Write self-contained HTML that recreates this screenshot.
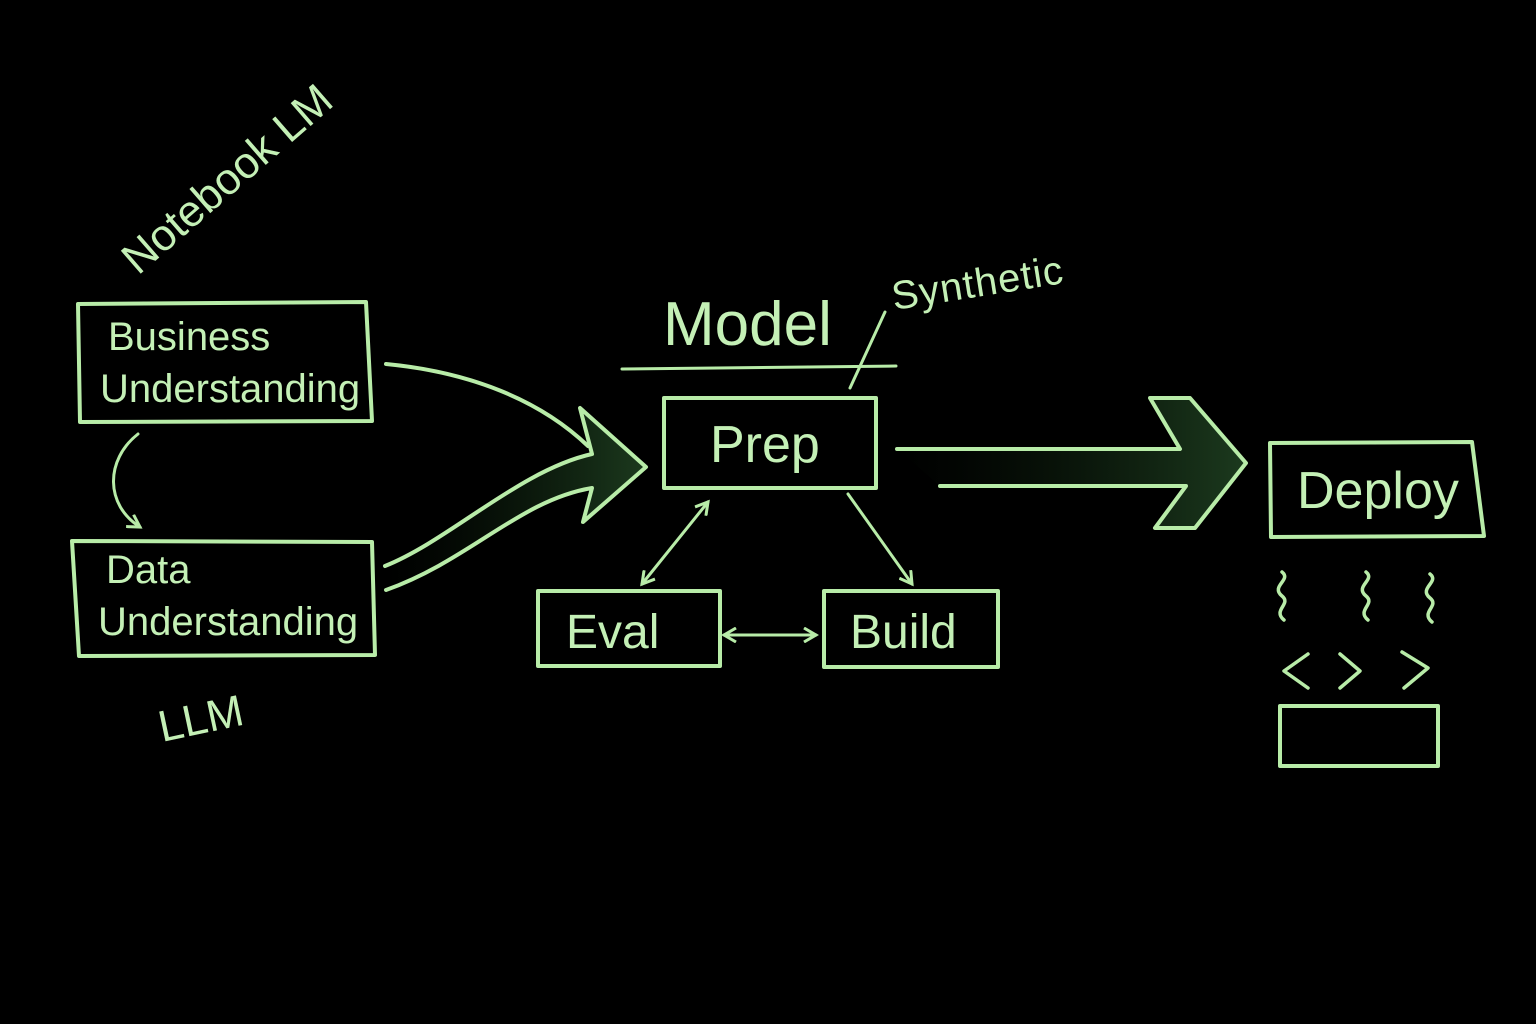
<!DOCTYPE html>
<html><head><meta charset="utf-8"><style>
html,body{margin:0;padding:0;background:#000;}
svg{display:block}
text{font-family:"Liberation Sans",sans-serif;fill:#c4f0b6;}
</style></head><body>
<svg width="1536" height="1024" viewBox="0 0 1536 1024" xmlns="http://www.w3.org/2000/svg">
<defs>
<linearGradient id="g1" x1="0" x2="1"><stop offset="0" stop-color="#0a1a0a" stop-opacity="0"/><stop offset="1" stop-color="#1c3a1e"/></linearGradient>
<marker id="ah" markerWidth="16" markerHeight="16" refX="13" refY="8" orient="auto" markerUnits="userSpaceOnUse"><path d="M1,1 L13,8 L1,15" fill="none" stroke="#b8eca8" stroke-width="3"/></marker>
<marker id="ahs" markerWidth="16" markerHeight="16" refX="3" refY="8" orient="auto" markerUnits="userSpaceOnUse"><path d="M15,1 L3,8 L15,15" fill="none" stroke="#b8eca8" stroke-width="3"/></marker>
</defs>
<g fill="none" stroke="#b8eca8" stroke-width="4" stroke-linecap="round" stroke-linejoin="round">
<path d="M78,304 L366,302 L372,421 L80,422 Z"/>
<path d="M72,541 L372,542 L375,655 L79,656 Z"/>
<rect x="664" y="398" width="212" height="90"/>
<rect x="538" y="591" width="182" height="75"/>
<rect x="824" y="591" width="174" height="76"/>
<path d="M1270,443 L1472,442 L1484,536 L1271,537 Z"/>
<rect x="1280" y="706" width="158" height="60"/>
<path d="M622,369 L896,366" stroke-width="3"/>
<path d="M885,312 L850,388" stroke-width="3"/>
<path d="M138,434 C105,460 105,505 140,527" stroke-width="3" marker-end="url(#ah)"/>
<path d="M386,590 C470,560 520,500 592,488 L583,522 L646,467 L580,408 L592,454 C520,470 450,540 385,566" fill="url(#g1)"/>
<path d="M386,364 C470,372 540,400 588,446"/>
<path d="M940,486 L1186,486 L1155,528 L1195,528 L1246,463 L1190,398 L1150,398 L1180,449 L897,449" fill="url(#g1)"/>
<path d="M724,635 L816,635" stroke-width="3" marker-start="url(#ahs)" marker-end="url(#ah)"/>
<path d="M708,502 L642,584" stroke-width="3" marker-start="url(#ahs)" marker-end="url(#ah)"/>
<path d="M848,494 L912,584" stroke-width="3" marker-end="url(#ah)"/>
<path d="M1282,572 c10,8 -12,14 0,24 c10,8 -10,14 2,24" stroke-width="3.5"/>
<path d="M1366,572 c10,8 -12,14 0,24 c10,8 -10,14 2,24" stroke-width="3.5"/>
<path d="M1430,574 c10,8 -12,14 0,24 c10,8 -10,14 2,24" stroke-width="3.5"/>
<path d="M1308,654 L1284,671 L1308,688" stroke-width="3.5"/>
<path d="M1340,654 L1360,671 L1340,688" stroke-width="3.5"/>
<path d="M1402,652 L1428,668 L1404,688" stroke-width="3.5"/>
</g>
<text x="108" y="350" font-size="40">Business</text>
<text x="100" y="402" font-size="40">Understanding</text>
<text x="106" y="583" font-size="40">Data</text>
<text x="98" y="635" font-size="40">Understanding</text>
<text x="0" y="0" font-size="44" transform="translate(138,276) rotate(-41)">Notebook LM</text>
<text x="0" y="0" font-size="44" transform="translate(162,742) rotate(-12)">LLM</text>
<text x="663" y="345" font-size="62">Model</text>
<text x="0" y="0" font-size="40" letter-spacing="1" transform="translate(894,310) rotate(-9)">Synthetic</text>
<text x="710" y="462" font-size="52">Prep</text>
<text x="566" y="648" font-size="48">Eval</text>
<text x="850" y="648" font-size="48">Build</text>
<text x="1297" y="508" font-size="52">Deploy</text>
</svg>
</body></html>
